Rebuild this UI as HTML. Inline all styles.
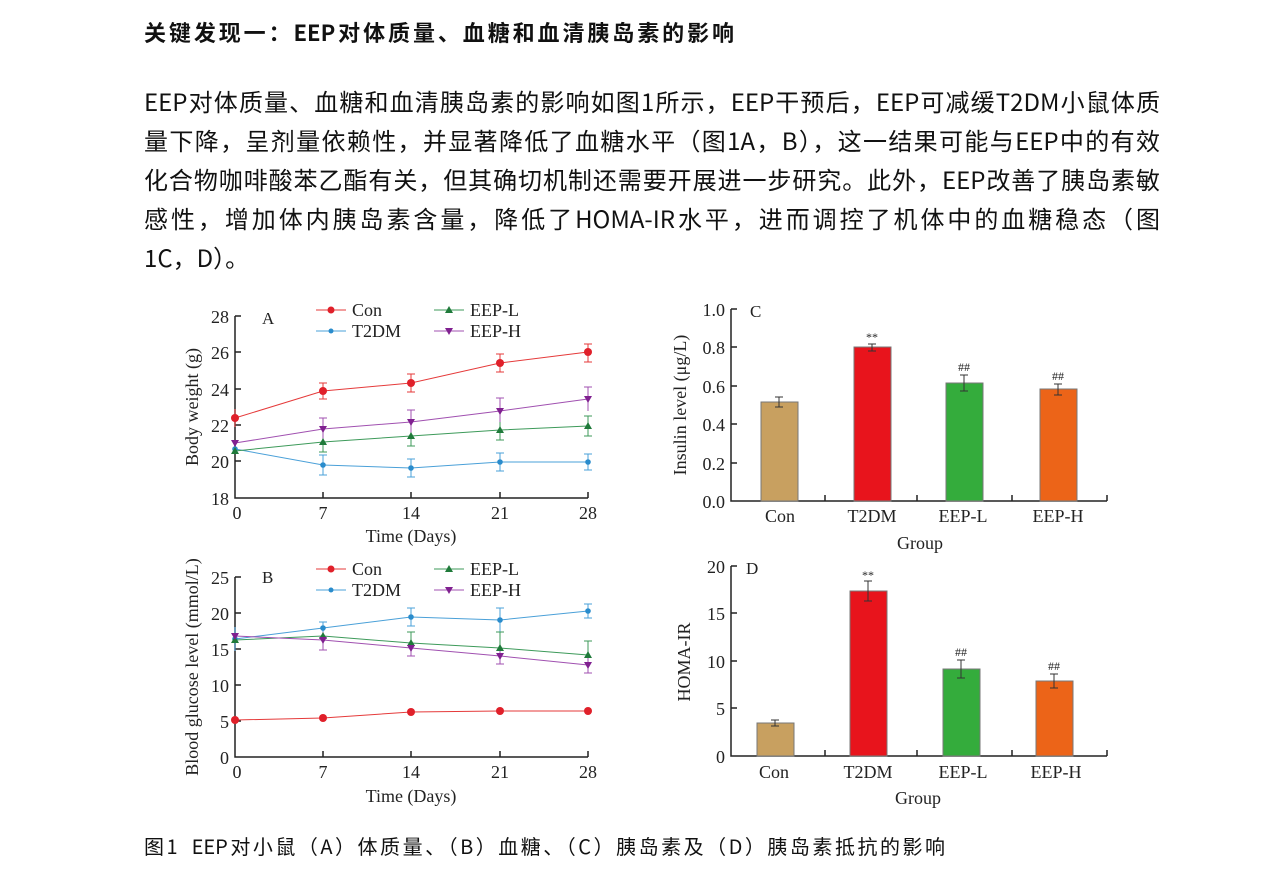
<!DOCTYPE html>
<html><head><meta charset="utf-8"><style>
body{margin:0;width:1288px;height:878px;background:#fff;overflow:hidden;font-family:"Noto Sans CJK SC","Liberation Sans",sans-serif;color:#111}
.l{position:absolute;left:144px;white-space:nowrap;text-align:justify;text-align-last:justify;height:39px;line-height:39px}
.h{top:13px;width:590px;font-size:22px;font-weight:bold}
.p{font-size:24px;width:1016px}
.c{top:826px;width:801px;font-size:20px}
svg{position:absolute;left:0;top:0}
svg text{font-family:"Liberation Serif",serif;fill:#222}
</style></head><body>
<div class="l h">关键发现一：EEP对体质量、血糖和血清胰岛素的影响</div>
<div class="l p" style="top:81px">EEP对体质量、血糖和血清胰岛素的影响如图1所示，EEP干预后，EEP可减缓T2DM小鼠体质</div>
<div class="l p" style="top:120px">量下降，呈剂量依赖性，并显著降低了血糖水平（图1A，B），这一结果可能与EEP中的有效</div>
<div class="l p" style="top:159px">化合物咖啡酸苯乙酯有关，但其确切机制还需要开展进一步研究。此外，EEP改善了胰岛素敏</div>
<div class="l p" style="top:198px">感性，增加体内胰岛素含量，降低了HOMA-IR水平，进而调控了机体中的血糖稳态（图</div>
<div class="l p" style="top:237px;text-align-last:left;width:auto">1C，D）。</div>
<div class="l c">图1 &nbsp;EEP对小鼠（A）体质量、（B）血糖、（C）胰岛素及（D）胰岛素抵抗的影响</div>
<svg width="1288" height="878" viewBox="0 0 1288 878">
<g stroke="#222" stroke-width="1.5" fill="none">
<path d="M235 316V498H588M235 316h6M235 352h6M235 389h6M235 425h6M235 461h6M323 498v-6M411 498v-6M500 498v-6M588 498v-6"/>
<path d="M235 577V757H588M235 577h6M235 613h6M235 649h6M235 685h6M235 721h6M323 757v-6M411 757v-6M500 757v-6M588 757v-6"/>
<path d="M731 309V501H1107M731 309h6M731 347h6M731 386h6M731 424h6M731 463h6M825 501v-6M917 501v-6M1012 501v-6M1107 501v-6"/>
<path d="M731 566V756H1107M731 566h6M731 613h6M731 661h6M731 708h6M825 756v-6M917 756v-6M1012 756v-6M1107 756v-6"/>
</g>
<g font-size="18" text-anchor="end">
<text x="229" y="323">28</text><text x="229" y="359">26</text><text x="229" y="396">24</text><text x="229" y="432">22</text><text x="229" y="468">20</text><text x="229" y="505">18</text>
<text x="229" y="584">25</text><text x="229" y="620">20</text><text x="229" y="656">15</text><text x="229" y="692">10</text><text x="229" y="728">5</text><text x="229" y="764">0</text>
<text x="725" y="316">1.0</text><text x="725" y="354">0.8</text><text x="725" y="393">0.6</text><text x="725" y="431">0.4</text><text x="725" y="470">0.2</text><text x="725" y="508">0.0</text>
<text x="725" y="573">20</text><text x="725" y="620">15</text><text x="725" y="668">10</text><text x="725" y="715">5</text><text x="725" y="763">0</text>
</g>
<g font-size="18" text-anchor="middle">
<text x="237" y="519">0</text><text x="323" y="519">7</text><text x="411" y="519">14</text><text x="500" y="519">21</text><text x="588" y="519">28</text>
<text x="237" y="778">0</text><text x="323" y="778">7</text><text x="411" y="778">14</text><text x="500" y="778">21</text><text x="588" y="778">28</text>
<text x="411" y="542">Time (Days)</text><text x="411" y="802">Time (Days)</text>
<text x="780" y="522">Con</text><text x="872" y="522">T2DM</text><text x="963" y="522">EEP-L</text><text x="1058" y="522">EEP-H</text>
<text x="920" y="549">Group</text>
<text x="774" y="778">Con</text><text x="868" y="778">T2DM</text><text x="963" y="778">EEP-L</text><text x="1056" y="778">EEP-H</text>
<text x="918" y="804">Group</text>
<text x="198" y="407" transform="rotate(-90 198 407)">Body weight (g)</text>
<text x="198" y="667" transform="rotate(-90 198 667)">Blood glucose level (mmol/L)</text>
<text x="686" y="405" transform="rotate(-90 686 405)">Insulin level (μg/L)</text>
<text x="690" y="662" transform="rotate(-90 690 662)">HOMA-IR</text>
</g>
<g font-size="17"><text x="262" y="324">A</text><text x="262" y="583">B</text><text x="750" y="317">C</text><text x="746" y="574">D</text></g>
<g font-size="18">
<line x1="316" y1="310" x2="346" y2="310" stroke="#e53a3a"/><circle cx="331" cy="310" r="3.5" fill="#e0202a"/><text x="352" y="316">Con</text>
<line x1="316" y1="331" x2="346" y2="331" stroke="#4aa0d8"/><circle cx="331" cy="331" r="2.5" fill="#2a8ccc"/><text x="352" y="337">T2DM</text>
<line x1="434" y1="310" x2="464" y2="310" stroke="#3d9a5a"/><path d="M449 306l4 7h-8z" fill="#1f7a3a"/><text x="470" y="316">EEP-L</text>
<line x1="434" y1="331" x2="464" y2="331" stroke="#a050b0"/><path d="M445 328h8l-4 7z" fill="#802090"/><text x="470" y="337">EEP-H</text>
<line x1="316" y1="569" x2="346" y2="569" stroke="#e53a3a"/><circle cx="331" cy="569" r="3.5" fill="#e0202a"/><text x="352" y="575">Con</text>
<line x1="316" y1="590" x2="346" y2="590" stroke="#4aa0d8"/><circle cx="331" cy="590" r="2.5" fill="#2a8ccc"/><text x="352" y="596">T2DM</text>
<line x1="434" y1="569" x2="464" y2="569" stroke="#3d9a5a"/><path d="M449 565l4 7h-8z" fill="#1f7a3a"/><text x="470" y="575">EEP-L</text>
<line x1="434" y1="590" x2="464" y2="590" stroke="#a050b0"/><path d="M445 587h8l-4 7z" fill="#802090"/><text x="470" y="596">EEP-H</text>
</g>
<g fill="none" stroke-width="1">
<polyline stroke="#e53a3a" points="235,418 323,391 411,383 500,363 588,352"/>
<polyline stroke="#4aa0d8" points="235,449 323,465 411,468 500,462 588,462"/>
<polyline stroke="#3d9a5a" points="235,451 323,442 411,436 500,430 588,426"/>
<polyline stroke="#a050b0" points="235,443 323,429 411,422 500,411 588,399"/>
<path stroke="#e53a3a" d="M323 383v16M319 383h8M319 399h8M411 374v18M407 374h8M407 392h8M500 354v18M496 354h8M496 372h8M588 344v18M584 344h8M584 362h8M235 409v18"/>
<path stroke="#4aa0d8" d="M323 455v20M319 455h8M319 475h8M411 459v18M407 459h8M407 477h8M500 453v18M496 453h8M496 471h8M588 454v16M584 454h8M584 470h8"/>
<path stroke="#3d9a5a" d="M323 432v20M319 452h8M411 426v20M407 446h8M500 420v20M496 440h8M588 416v20M584 416h8M584 436h8"/>
<path stroke="#a050b0" d="M323 418v22M319 418h8M411 410v24M407 410h8M500 398v24M496 398h8M588 387v24M584 387h8"/>
</g>
<g fill="#e0202a"><circle cx="235" cy="418" r="4"/><circle cx="323" cy="391" r="4"/><circle cx="411" cy="383" r="4"/><circle cx="500" cy="363" r="4"/><circle cx="588" cy="352" r="4"/></g>
<g fill="#2a8ccc"><circle cx="235" cy="449" r="2.8"/><circle cx="323" cy="465" r="2.8"/><circle cx="411" cy="468" r="2.8"/><circle cx="500" cy="462" r="2.8"/><circle cx="588" cy="462" r="2.8"/></g>
<g fill="#1f7a3a"><path d="M235 447l4 7h-8zM323 438l4 7h-8zM411 432l4 7h-8zM500 426l4 7h-8zM588 422l4 7h-8z"/></g>
<g fill="#802090"><path d="M231 440h8l-4 7zM319 426h8l-4 7zM407 419h8l-4 7zM496 408h8l-4 7zM584 396h8l-4 7z"/></g>
<g fill="none" stroke-width="1">
<polyline stroke="#e53a3a" points="235,720 323,718 411,712 500,711 588,711"/>
<polyline stroke="#4aa0d8" points="235,639 323,628 411,617 500,620 588,611"/>
<polyline stroke="#3d9a5a" points="235,640 323,636 411,643 500,648 588,655"/>
<polyline stroke="#a050b0" points="235,636 323,640 411,648 500,656 588,665"/>
<path stroke="#4aa0d8" d="M323 622v12M319 622h8M411 608v18M407 608h8M407 626h8M500 608v24M496 608h8M588 604v14M584 604h8M584 618h8M235 627v24"/>
<path stroke="#3d9a5a" d="M411 632v22M407 632h8M500 632v32M496 632h8M588 641v28M584 641h8"/>
<path stroke="#a050b0" d="M323 632v18M319 650h8M411 640v16M407 656h8M500 648v16M496 664h8M588 657v16M584 673h8"/>
</g>
<g fill="#e0202a"><circle cx="235" cy="720" r="4"/><circle cx="323" cy="718" r="4"/><circle cx="411" cy="712" r="4"/><circle cx="500" cy="711" r="4"/><circle cx="588" cy="711" r="4"/></g>
<g fill="#2a8ccc"><circle cx="235" cy="639" r="2.8"/><circle cx="323" cy="628" r="2.8"/><circle cx="411" cy="617" r="2.8"/><circle cx="500" cy="620" r="2.8"/><circle cx="588" cy="611" r="2.8"/></g>
<g fill="#1f7a3a"><path d="M235 636l4 7h-8zM323 632l4 7h-8zM411 639l4 7h-8zM500 644l4 7h-8zM588 651l4 7h-8z"/></g>
<g fill="#802090"><path d="M231 633h8l-4 7zM319 637h8l-4 7zM407 645h8l-4 7zM496 653h8l-4 7zM584 662h8l-4 7z"/></g>
<g stroke="#777" stroke-width="1">
<rect x="761" y="402" width="37" height="99" fill="#c8a060"/>
<rect x="854" y="347" width="37" height="154" fill="#e8141c"/>
<rect x="946" y="383" width="37" height="118" fill="#34ac3c"/>
<rect x="1040" y="389" width="37" height="112" fill="#ec6418"/>
<rect x="757" y="723" width="37" height="33" fill="#c8a060"/>
<rect x="850" y="591" width="37" height="165" fill="#e8141c"/>
<rect x="943" y="669" width="37" height="87" fill="#34ac3c"/>
<rect x="1036" y="681" width="37" height="75" fill="#ec6418"/>
</g>
<g stroke="#333" stroke-width="1" fill="none">
<path d="M779 397v10M775 397h8M775 407h8M872 344v7M868 344h8M868 351h8M964 375v16M960 375h8M960 391h8M1058 384v11M1054 384h8M1054 395h8"/>
<path d="M775 720v6M771 720h8M771 726h8M868 581v20M864 581h8M864 601h8M961 660v18M957 660h8M957 678h8M1054 674v14M1050 674h8M1050 688h8"/>
</g>
<g font-size="12" text-anchor="middle" fill="#666">
<text x="872" y="341" fill="#888">**</text><text x="964" y="371">##</text><text x="1058" y="380">##</text>
<text x="868" y="579" fill="#888">**</text><text x="961" y="656">##</text><text x="1054" y="670">##</text>
</g>
</svg>
</body></html>
